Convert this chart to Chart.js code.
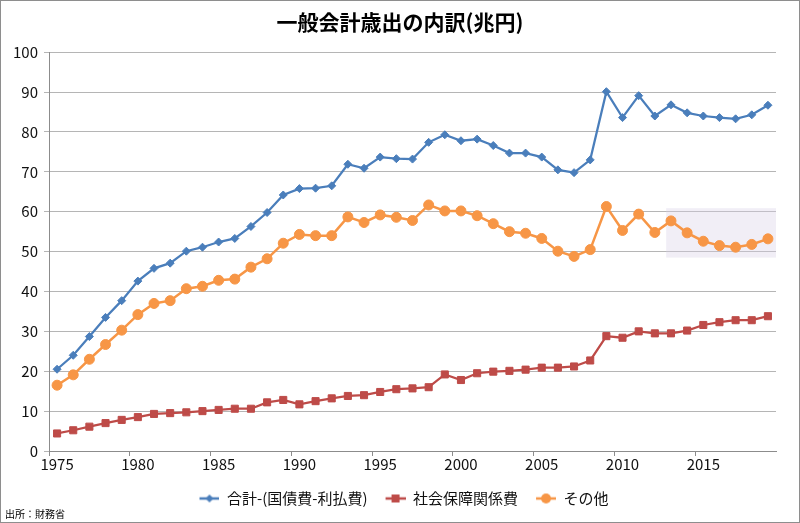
<!DOCTYPE html>
<html lang="ja">
<head>
<meta charset="utf-8">
<title>一般会計歳出の内訳(兆円)</title>
<script src="https://cdn.jsdelivr.net/npm/chart.js@4.4.1/dist/chart.umd.min.js"></script>
<style>
  html, body { margin: 0; padding: 0; background: #fff; }
  #wrap { width: 800px; height: 523px; box-sizing: border-box; border: 1px solid #8e8e8e; position: relative; }
</style>
</head>
<body>
<div id="wrap"><canvas id="budgetChart"></canvas></div>
<script>
// data (兆円)
const years = ['1975','1976','1977','1978','1979','1980','1981','1982','1983','1984',
               '1985','1986','1987','1988','1989','1990','1991','1992','1993','1994',
               '1995','1996','1997','1998','1999','2000','2001','2002','2003','2004',
               '2005','2006','2007','2008','2009','2010','2011','2012','2013','2014',
               '2015','2016','2017','2018','2019'];

const totalExDebt = [20.5, 24.0, 28.7, 33.5, 37.7, 42.6, 45.8, 47.1, 50.1, 51.1,
                     52.4, 53.3, 56.3, 59.8, 64.2, 65.8, 65.9, 66.5, 71.9, 70.9,
                     73.7, 73.3, 73.2, 77.4, 79.3, 77.8, 78.2, 76.6, 74.7, 74.7,
                     73.7, 70.5, 69.8, 73.0, 90.1, 83.6, 89.1, 84.0, 86.8, 84.8,
                     84.0, 83.6, 83.3, 84.3, 86.7];

const socialSecurity = [4.4, 5.2, 6.1, 7.0, 7.8, 8.5, 9.3, 9.5, 9.7, 10.0,
                        10.3, 10.6, 10.6, 12.2, 12.8, 11.7, 12.5, 13.2, 13.8, 14.0,
                        14.8, 15.5, 15.7, 16.0, 19.2, 17.8, 19.5, 19.9, 20.1, 20.4,
                        20.9, 20.9, 21.2, 22.7, 28.8, 28.4, 30.0, 29.5, 29.5, 30.2,
                        31.6, 32.3, 32.8, 32.8, 33.8];

const others = [16.5, 19.1, 23.0, 26.7, 30.3, 34.2, 37.0, 37.7, 40.7, 41.3,
                42.8, 43.1, 46.1, 48.2, 52.1, 54.3, 54.0, 54.0, 58.7, 57.3,
                59.2, 58.6, 57.8, 61.7, 60.2, 60.2, 59.0, 57.0, 55.0, 54.6,
                53.3, 50.1, 48.8, 50.5, 61.3, 55.3, 59.4, 54.8, 57.7, 54.7,
                52.6, 51.5, 51.1, 51.8, 53.2];

const seriesNames = ['合計-(国債費-利払費)', '社会保障関係費', 'その他'];
const yTicks = [0, 10, 20, 30, 40, 50, 60, 70, 80, 90, 100];
const sourceNote = '出所：財務省';

// shaded band behind the recent "その他" points (category index / value units)
const band = { fromIndex: 37.7, yLow: 48.5, yHigh: 60.9 };

const FONT = "'Noto Sans CJK JP', 'Noto Sans', sans-serif";
const BLUE = '#4a7ebb', RED = '#be4b48', ORANGE = '#f79646';

// little line+marker icons for the legend, like Excel
// (blank strip on the left gives the gap between legend entries)
function legendIcon(color, shape) {
  const c = document.createElement('canvas');
  c.width = 28; c.height = 12;
  const g = c.getContext('2d');
  g.strokeStyle = color; g.lineWidth = 2.5;
  g.beginPath(); g.moveTo(8, 6); g.lineTo(28, 6); g.stroke();
  g.fillStyle = color;
  g.beginPath();
  if (shape === 'diamond') {
    g.moveTo(18, 2); g.lineTo(22, 6); g.lineTo(18, 10); g.lineTo(14, 6);
  } else if (shape === 'square') {
    g.rect(14, 2, 8, 8);
  } else {
    g.arc(18, 6, 5, 0, Math.PI * 2);
  }
  g.fill();
  return c;
}
const icons = [legendIcon(BLUE, 'diamond'), legendIcon(RED, 'square'), legendIcon(ORANGE, 'circle')];

const bandPlugin = {
  id: 'band',
  beforeDatasetsDraw(chart) {
    const { ctx, chartArea, scales } = chart;
    const x0 = scales.x.getPixelForValue(band.fromIndex);
    const y0 = scales.y.getPixelForValue(band.yHigh);
    const y1 = scales.y.getPixelForValue(band.yLow);
    ctx.save();
    ctx.fillStyle = 'rgba(214, 206, 230, 0.35)';
    ctx.fillRect(x0, y0, chartArea.right - x0, y1 - y0);
    ctx.restore();
  }
};

const notePlugin = {
  id: 'note',
  afterDraw(chart) {
    const ctx = chart.ctx;
    ctx.save();
    ctx.font = '10px ' + FONT;
    ctx.fillStyle = '#000';
    ctx.textBaseline = 'middle';
    ctx.fillText(sourceNote, 4, chart.height - 8);
    ctx.restore();
  }
};

Chart.defaults.font.family = FONT;
Chart.defaults.color = '#111';

const ctx = document.getElementById('budgetChart').getContext('2d');
const budgetChart = new Chart(ctx, {
  type: 'line',
  data: {
    labels: years,
    datasets: [
      {
        label: seriesNames[0],
        data: totalExDebt,
        borderColor: BLUE,
        backgroundColor: BLUE,
        borderWidth: 2.25,
        pointStyle: 'rectRot',
        pointRadius: 4,
        pointBorderWidth: 1
      },
      {
        label: seriesNames[1],
        data: socialSecurity,
        borderColor: RED,
        backgroundColor: RED,
        borderWidth: 2.25,
        pointStyle: 'rect',
        pointRadius: 5,
        pointBorderWidth: 1
      },
      {
        label: seriesNames[2],
        data: others,
        borderColor: ORANGE,
        backgroundColor: ORANGE,
        borderWidth: 2.5,
        pointStyle: 'circle',
        pointRadius: 5,
        pointBorderWidth: 1
      }
    ]
  },
  options: {
    responsive: true,
    maintainAspectRatio: false,
    animation: false,
    layout: { padding: { top: 0, right: 0, bottom: 6, left: 0 } },
    scales: {
      x: {
        offset: true,
        grid: {
          offset: true,
          drawOnChartArea: false,
          tickLength: 5,
          color: c => (c.index % 5 === 0 ? '#8c8c8c' : 'rgba(0,0,0,0)')
        },
        border: { color: '#8c8c8c' },
        ticks: {
          autoSkip: false,
          maxRotation: 0,
          font: { size: 15 },
          padding: -1,
          callback: (v, i) => (Number(years[i]) % 5 === 0 ? years[i] : '')
        },
        afterFit: s => { s.height = 30; }
      },
      y: {
        min: 0,
        max: 100,
        afterBuildTicks: s => { s.ticks = yTicks.map(v => ({ value: v })); },
        grid: { color: '#b5b5b5', tickLength: 5 },
        border: { color: '#8c8c8c' },
        ticks: { font: { size: 15 }, padding: 6 },
        afterFit: s => { s.width = 48; }
      },
      // empty strip on the right so the title and legend stay centred on the page
      yRight: {
        position: 'right',
        display: true,
        grid: { display: false },
        border: { display: false },
        ticks: { display: false },
        afterFit: s => { s.width = 23; }
      }
    },
    plugins: {
      title: {
        display: true,
        text: '一般会計歳出の内訳(兆円)',
        font: { size: 21, weight: 'bold' },
        color: '#000',
        padding: { top: 8, bottom: 18 }
      },
      legend: {
        position: 'bottom',
        labels: {
          usePointStyle: true,
          pointStyleWidth: 28,
          font: { size: 15 },
          padding: 10,
          generateLabels(chart) {
            const items = Chart.defaults.plugins.legend.labels.generateLabels(chart);
            items.forEach((it, i) => { it.pointStyle = icons[i]; });
            return items;
          }
        }
      },
      tooltip: { enabled: false }
    }
  },
  plugins: [bandPlugin, notePlugin]
});
</script>
</body>
</html>
